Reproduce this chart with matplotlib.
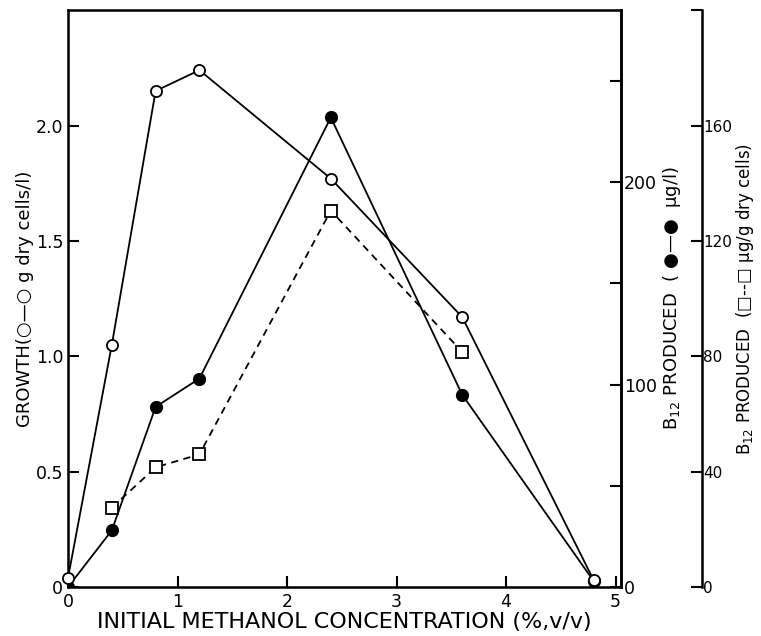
import numpy as np
import matplotlib.pyplot as plt

# methanol concentration (%, v/v)
conc = [0, 0.4, 0.8, 1.2, 2.4, 3.6, 4.8]
# growth, g dry cells / l  (open circles)
growth = [0.04, 1.05, 2.15, 2.24, 1.77, 1.17, 0.03]
# B12 produced, ug/l  (filled circles)
b12_vol = [0, 28, 89, 103, 232, 95, 3]
# B12 produced, ug/g dry cells  (open squares, dashed)
conc_sq = [0.4, 0.8, 1.2, 2.4, 3.6]
b12_cell = [27.5, 41.5, 46, 130.5, 81.5]

plt.rcParams['font.family'] = ['DejaVu Sans']
fig = plt.figure(figsize=(7.61, 6.36), dpi=100)
ax = fig.add_axes([0.0894, 0.077, 0.7266, 0.907])

lw = 1.3
ax.plot(conc, growth, '-', color='black', lw=lw, marker='o', ms=8,
        mfc='white', mec='black', mew=1.3, zorder=3, clip_on=False)

ax.set_xlim(0, 5.05)
ax.set_ylim(0, 2.5)
ax.set_xticks([0, 1, 2, 3, 4, 5])
ax.set_yticks([0, 0.5, 1.0, 1.5, 2.0])
ax.set_yticklabels(['0', '0.5', '1.0', '1.5', '2.0'])
ax.tick_params(direction='in', length=8, width=1.5, labelsize=12.5)
ax.tick_params(axis='x', pad=4)
for s in ax.spines.values():
    s.set_linewidth(1.8)
ax.set_xlabel('INITIAL METHANOL CONCENTRATION (%,v/v)', fontsize=16, labelpad=1)
ax.set_ylabel('GROWTH(\u25cb\u2014\u25cb g dry cells/l)', fontsize=13, labelpad=1)

# middle axis: ug/l
ax2 = ax.twinx()
ax2.plot(conc, b12_vol, '-', color='black', lw=lw, marker='o', ms=8.5,
         mfc='black', mec='black', zorder=3)
ax2.set_ylim(0, 285)
ax2.set_yticks([0, 50, 100, 150, 200, 250])
ax2.set_yticklabels(['0', '', '100', '', '200', ''])
ax2.tick_params(direction='in', length=8, width=1.5, labelsize=12.5, pad=2)
ax2.spines['right'].set_linewidth(1.8)
ax2.set_ylabel('B$_{12}$ PRODUCED  ( \u25cf\u2014\u25cf  \u00b5g/l)', fontsize=13, labelpad=3)

# outer axis: ug/g dry cells
ax3 = ax.twinx()
ax3.spines['right'].set_position(('axes', 1.1465))
for k in ['top', 'bottom', 'left']:
    ax3.spines[k].set_visible(False)
ax3.spines['right'].set_linewidth(1.8)
ax3.plot(conc_sq, b12_cell, '--', color='black', lw=lw, marker='s', ms=8,
         mfc='white', mec='black', mew=1.3, dashes=(4, 3), zorder=3)
ax3.set_ylim(0, 200)
ax3.set_yticks([0, 40, 80, 120, 160, 200])
ax3.set_yticklabels(['0', '40', '80', '120', '160', ''])
ax3.tick_params(direction='in', length=8, width=1.5, labelsize=11, pad=1)
ax3.set_ylabel('B$_{12}$ PRODUCED  (\u25a1--\u25a1 \u00b5g/g dry cells)', fontsize=12, labelpad=1)

# keep the open circles on top of the other series
ax.set_zorder(ax3.get_zorder() + 1)
ax.patch.set_visible(False)

fig.savefig('out.png', dpi=100)
